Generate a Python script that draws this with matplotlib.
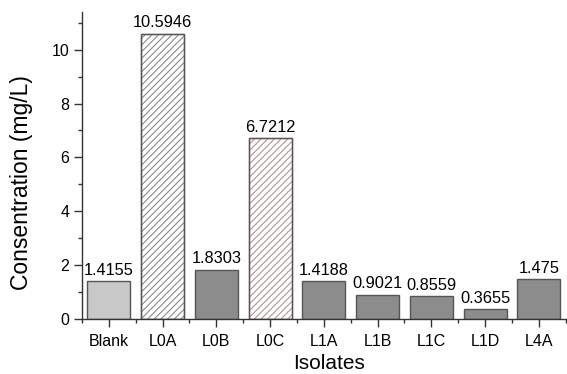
import matplotlib
matplotlib.use("Agg")
import matplotlib.pyplot as plt
from matplotlib.ticker import MultipleLocator

plt.rcParams['font.family'] = ['Liberation Sans', 'DejaVu Sans']
plt.rcParams['hatch.linewidth'] = 0.8

isolates = ["Blank", "L0A", "L0B", "L0C", "L1A", "L1B", "L1C", "L1D", "L4A"]
concentration = [1.4155, 10.5946, 1.8303, 6.7212, 1.4188, 0.9021, 0.8559, 0.3655, 1.475]
value_labels = ["1.4155", "10.5946", "1.8303", "6.7212", "1.4188", "0.9021", "0.8559", "0.3655", "1.475"]

face_colors = ["#c8c8c8", "white", "#8c8c8c", "white", "#8c8c8c", "#8c8c8c", "#8c8c8c", "#8c8c8c", "#8c8c8c"]
hatch_colors = [None, "#8a8a8a", None, "#b09494", None, None, None, None, None]

fig = plt.figure(figsize=(5.67, 3.74), dpi=100)
ax = fig.add_axes([0.1446, 0.147, 0.853, 0.821])

x = list(range(len(isolates)))
for i in x:
    hatch = "/////" if hatch_colors[i] else None
    bar = ax.bar(i, concentration[i], width=0.8, color=face_colors[i],
                 edgecolor="#555555", linewidth=1.0, hatch=hatch)
    if hatch_colors[i]:
        bar[0].set_edgecolor(hatch_colors[i])
        # redraw outline in dark gray on top of the hatched face
        ax.bar(i, concentration[i], width=0.8, fill=False,
               edgecolor="#555555", linewidth=1.0)
    ax.text(i, concentration[i] + 0.12, value_labels[i], ha="center", va="bottom",
            fontsize=11.8, color="black")

ax.set_xlim(-0.5, 8.5)
ax.set_ylim(0, 11.4)
ax.set_xticks(x)
ax.set_xticklabels(isolates)
ax.xaxis.set_minor_locator(MultipleLocator(0.5))
ax.yaxis.set_major_locator(MultipleLocator(2))
ax.yaxis.set_minor_locator(MultipleLocator(1))

for side in ("top", "right"):
    ax.spines[side].set_visible(False)
for side in ("left", "bottom"):
    ax.spines[side].set_linewidth(1.0)
    ax.spines[side].set_color("#333333")

ax.tick_params(axis="both", which="major", direction="out", length=6, width=1.0,
               labelsize=11.5, color="#333333")
ax.tick_params(axis="both", which="minor", direction="out", length=3, width=1.0,
               color="#333333")
ax.tick_params(axis="x", which="major", pad=5)
ax.tick_params(axis="y", which="major", pad=3)

ax.set_xlabel("Isolates", fontsize=15)
ax.set_ylabel("Consentration (mg/L)", fontsize=16.5)
ax.xaxis.set_label_coords(0.510, -0.114)
ax.yaxis.set_label_coords(-0.101, 0.446)

fig.savefig("out.png", dpi=100)
